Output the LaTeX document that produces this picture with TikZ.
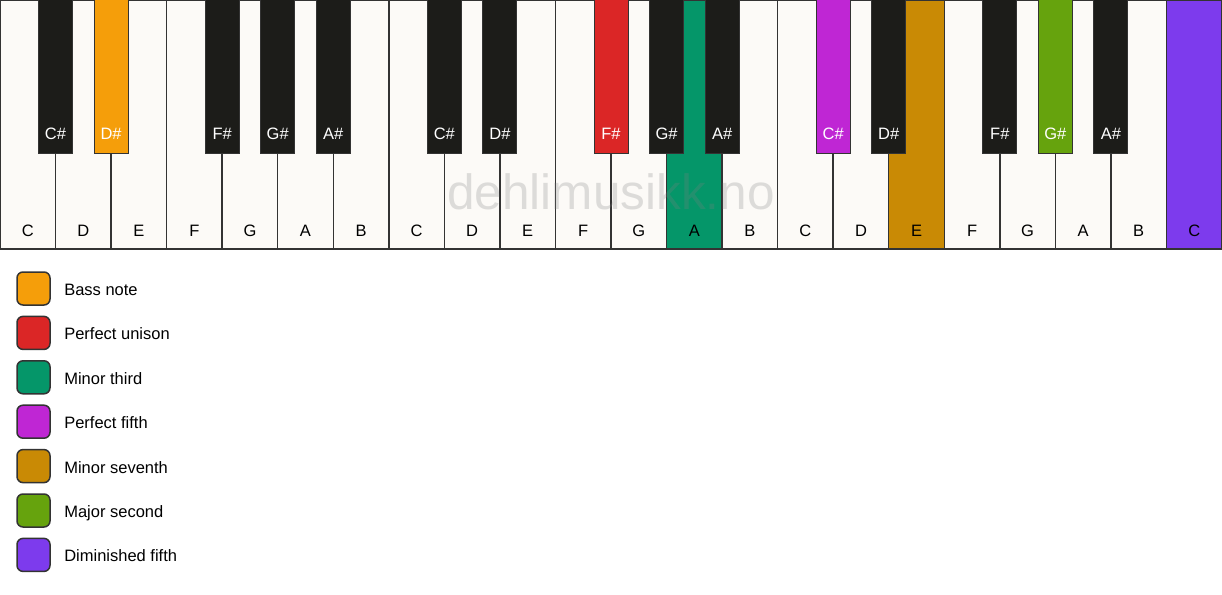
\documentclass[tikz,border=0pt]{standalone}
\usepackage{fontspec}
\setmainfont{Liberation Sans}
\usepackage{tikz}
\usetikzlibrary{positioning}
\definecolor{ivory}{rgb}{0.99, 0.98, 0.97}
\definecolor{ebony}{rgb}{0.11, 0.11, 0.10}
\definecolor{edge}{rgb}{0.2, 0.2, 0.2}
\definecolor{bass}{rgb}{0.96, 0.62, 0.04}
\definecolor{unison}{rgb}{0.86, 0.15, 0.15}
\definecolor{third}{rgb}{0.02, 0.59, 0.41}
\definecolor{fifth}{rgb}{0.75, 0.15, 0.83}
\definecolor{seventh}{rgb}{0.79, 0.54, 0.02}
\definecolor{second}{rgb}{0.40, 0.64, 0.05}
\definecolor{dimfifth}{rgb}{0.49, 0.23, 0.93}
\tikzset{
	whitekey/.style={draw=edge,line width=1.5pt,fill=ivory,minimum width=55.545pt,minimum height=249pt,inner sep=0pt},
	blackkey/.style={draw=edge,line width=1pt,fill=ebony,minimum width=34pt,minimum height=153pt,inner sep=0pt},
	keytext/.style={font=\fontsize{16.5}{20}\selectfont},
	swatch/.style={draw=edge,line width=1.5pt,rounded corners=6pt,minimum size=33pt,inner sep=0pt}
}

\begin{document}
\begin{tikzpicture}[x=1pt,y=-1pt]
	 	 		\useasboundingbox (0,0) rectangle (1222,594);
	 	 		% white keys
	 	 		\foreach \n [count=\i from 0] in {C,D,E,F,G,A,B,C,D,E,F,G,A,B,C,D,E,F,G,A,B,C} {
	 	 			\node[whitekey] (w\i) at ({(\i+0.5)*55.545},124.5) {};
	 	 		}
	 	 		\foreach \i/\c in {12/third,16/seventh,21/dimfifth}
	 	 			\node[whitekey,fill=\c] (cw\i) at ({(\i+0.5)*55.545},124.5) {};
	 	 		\foreach \n [count=\i from 0] in {C,D,E,F,G,A,B,C,D,E,F,G,A,B,C,D,E,F,G,A,B,C}
	 	 			\node[keytext,anchor=base] (wl\i) at ({(\i+0.5)*55.545},236) {\n};
	 	 		% black keys
	 	 		\foreach \k/\n/\c in {1/C/ebony,2/D/bass,4/F/ebony,5/G/ebony,6/A/ebony,8/C/ebony,9/D/ebony,11/F/unison,12/G/ebony,13/A/ebony,15/C/fifth,16/D/ebony,18/F/ebony,19/G/second,20/A/ebony} {
	 	 			\node[blackkey,fill=\c] (b\k) at ({\k*55.545},76.5) {};
	 	 			\node[keytext,white,anchor=base] (bl\k) at ({\k*55.545},139.5) {\n\#};
	 	 		}
	 	 		\node[font=\fontsize{49.5}{50}\selectfont,text=gray,opacity=0.25] (mark) at (611,192) {dehlimusikk.no};
	 	 		% legend
	 	 		\foreach \t/\c [count=\j from 0] in {Bass note/bass,Perfect unison/unison,Minor third/third,Perfect fifth/fifth,Minor seventh/seventh,Major second/second,Diminished fifth/dimfifth} {
	 	 			\node[swatch,fill=\c] (s\j) at (33.5,{288.5+44.4*\j}) {};
	 	 			\node[keytext,text height=12pt,text depth=0pt,right=10pt of s\j,yshift=-1pt] (t\j) {\t};
	 	 		}
	 	 		\end{tikzpicture}
\end{document}
